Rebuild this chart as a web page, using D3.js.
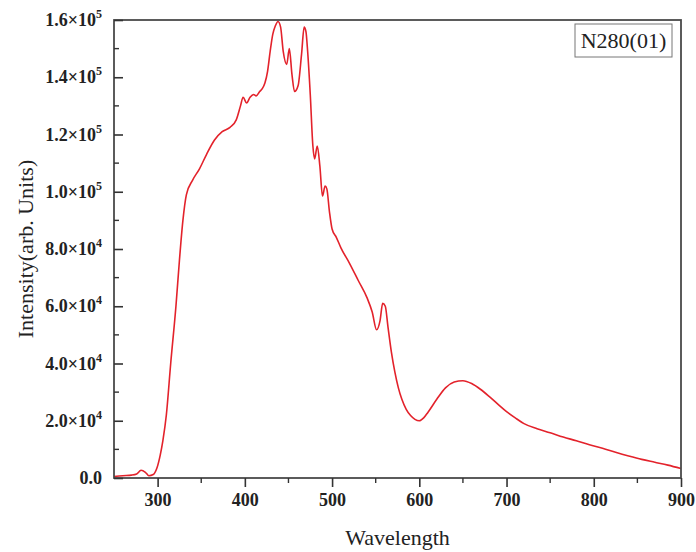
<!DOCTYPE html>
<html>
<head>
<meta charset="utf-8">
<script src="https://cdn.jsdelivr.net/npm/d3@7"></script>
<style>
  body { margin: 0; background: #fff; }
  text { font-family: "Liberation Serif", "Times New Roman", serif; }
</style>
</head>
<body>
<div id="chart"></div>
<script>
// spectrum
const wavelength = [250, 260, 270, 276, 281, 286, 290, 295, 299, 303, 306, 310, 315, 321, 325, 329, 333, 340, 348, 356, 365, 374, 383, 390, 395, 398, 402, 406, 410, 413, 417, 420, 423, 426, 429, 432, 435, 438, 441, 444, 448, 451, 454, 457, 461, 465, 468, 470, 472, 475, 478, 480, 483, 486, 489, 492, 494, 497, 500, 505, 510, 520, 530, 540, 546, 551, 555, 558, 561, 564, 568, 572, 576, 580, 585, 590, 595, 600, 605, 610, 620, 630, 640, 650, 660, 670, 680, 690, 700, 710, 720, 735, 750, 765, 780, 795, 810, 825, 840, 855, 870, 885, 900]
const intensity = [500, 800, 1000, 1400, 2700, 2000, 800, 1200, 3300, 8000, 13000, 22000, 40000, 60000, 76000, 90000, 99000, 104000, 108000, 113000, 118000, 121000, 122500, 125000, 130000, 133000, 131000, 133000, 134000, 133500, 135000, 136000, 138000, 142000, 149000, 155000, 158000, 159500, 157500, 149000, 144500, 150000, 141000, 135000, 137000, 148000, 157500, 156000, 149000, 134000, 116000, 111500, 116000, 109000, 98500, 102000, 101000, 93000, 87000, 84000, 80500, 75000, 69000, 63000, 58000, 51800, 55000, 61000, 60000, 53000, 44000, 37000, 31500, 27500, 24000, 21800, 20500, 20000, 21000, 23000, 27500, 31500, 33500, 34000, 33000, 31000, 28500, 25800, 23200, 21000, 19000, 17200, 15800, 14300, 13000, 11600, 10400, 9000, 7700, 6500, 5500, 4500, 3300]
const xTicks = [300, 400, 500, 600, 700, 800, 900]
const yTicks = [0, 20000, 40000, 60000, 80000, 100000, 120000, 140000, 160000]
const legendLabel = "N280(01)"

const W = 696, H = 552
const margin = { top: 20, right: 15, bottom: 74, left: 114 }
const iw = W - margin.left - margin.right
const ih = H - margin.top - margin.bottom

const svg = d3.select('#chart').append('svg')
  .attr('width', W)
  .attr('height', H)

const g = svg.append('g').attr('transform', `translate(${margin.left},${margin.top})`)

const x = d3.scaleLinear().domain([250, 900]).range([0, iw])
const y = d3.scaleLinear().domain([0, 160000]).range([ih, 0])

const data = wavelength.map((w, i) => [w, intensity[i]])

/* curve */
g.append('path')
  .datum(data)
  .attr('fill', 'none')
  .attr('stroke', '#e3222b')
  .attr('stroke-width', 1.6)
  .attr('d', d3.line().x(d => x(d[0])).y(d => y(d[1])).curve(d3.curveMonotoneX))

/* frame */
g.append('rect')
  .attr('width', iw).attr('height', ih)
  .attr('fill', 'none')
  .attr('stroke', '#4a4a4a')
  .attr('stroke-width', 1.8)

/* x axis: ticks pointing out */
const xAxis = g.append('g').attr('transform', `translate(0,${ih})`)
  .call(d3.axisBottom(x).tickValues(xTicks).tickSize(9).tickPadding(6).tickFormat(d3.format('d')))
xAxis.select('.domain').remove()
xAxis.selectAll('line').attr('stroke', '#333').attr('stroke-width', 1.6)
xAxis.selectAll('text').attr('font-size', 18).attr('font-weight', 'bold').attr('fill', '#222')
  .attr('font-family', '"Liberation Serif", serif')

g.append('g').attr('transform', `translate(0,${ih})`)
  .selectAll('line').data(d3.range(350, 900, 100)).enter().append('line')
  .attr('x1', d => x(d)).attr('x2', d => x(d))
  .attr('y1', 0).attr('y2', 5)
  .attr('stroke', '#333').attr('stroke-width', 1.4)

/* y axis: ticks pointing in */
const yAxis = g.append('g')
  .call(d3.axisRight(y).tickValues(yTicks).tickSize(9).tickFormat(''))
yAxis.select('.domain').remove()
yAxis.selectAll('line').attr('stroke', '#333').attr('stroke-width', 1.6)

g.append('g')
  .selectAll('line').data(d3.range(10000, 160000, 20000)).enter().append('line')
  .attr('x1', 0).attr('x2', 5)
  .attr('y1', d => y(d)).attr('y2', d => y(d))
  .attr('stroke', '#333').attr('stroke-width', 1.4)

const yLab = g.append('g').selectAll('text').data(yTicks).enter().append('text')
  .attr('x', -12)
  .attr('y', d => y(d) + 6)
  .attr('text-anchor', 'end')
  .attr('font-size', 18)
  .attr('font-weight', 'bold')
  .attr('fill', '#222')
yLab.each(function(d) {
  const t = d3.select(this)
  if (d === 0) { t.text('0.0'); return }
  const e = Math.floor(Math.log10(d))
  const m = d / Math.pow(10, e)
  t.append('tspan').text(m.toFixed(1) + '×10')
  t.append('tspan').attr('dy', -8).attr('font-size', 12).text(e)
})

/* axis titles */
svg.append('text')
  .attr('x', margin.left + iw / 2)
  .attr('y', 545)
  .attr('text-anchor', 'middle')
  .attr('font-size', 22)
  .attr('fill', '#222')
  .text('Wavelength')

svg.append('text')
  .attr('transform', `translate(33,${margin.top + ih / 2}) rotate(-90)`)
  .attr('text-anchor', 'middle')
  .attr('font-size', 22)
  .attr('fill', '#222')
  .text('Intensity(arb. Units)')

/* legend box */
const lg = svg.append('g').attr('transform', 'translate(575,24)')
lg.append('rect').attr('width', 97).attr('height', 33)
  .attr('fill', '#fff').attr('stroke', '#777').attr('stroke-width', 1)
lg.append('text').attr('x', 48.5).attr('y', 24)
  .attr('text-anchor', 'middle').attr('font-size', 22).attr('fill', '#222')
  .text(legendLabel)
</script>
</body>
</html>
